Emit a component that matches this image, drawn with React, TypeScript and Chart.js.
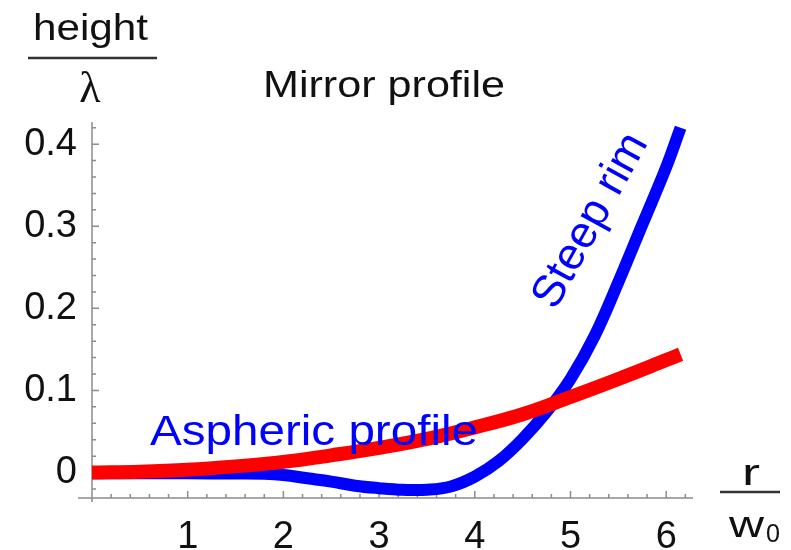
import React, { useEffect, useRef } from 'react';
import { Chart, registerables } from 'chart.js';

Chart.register(...registerables);

// Aspheric profile (red)
const redR = [0, 0.5, 1, 1.5, 2, 2.5, 3, 3.5, 4, 4.5, 5, 5.5, 6, 6.15];
const redH = [0, 0.001, 0.0033, 0.0075, 0.013, 0.021, 0.03, 0.041, 0.055, 0.071, 0.092, 0.114, 0.137, 0.144];

// Steep-rim profile (blue)
const blueR = [0, 0.5, 1, 1.5, 1.8, 2, 2.25, 2.5, 2.75, 3, 3.25, 3.5, 3.75, 4, 4.25, 4.5, 4.75, 5, 5.25, 5.5, 5.75, 6, 6.15];
const blueH = [-0.001, -0.001, -0.001, -0.0012, -0.0015, -0.003, -0.007, -0.011, -0.016, -0.019, -0.021, -0.021, -0.017, -0.005, 0.014, 0.041, 0.074, 0.114, 0.166, 0.232, 0.302, 0.372, 0.42];

const xTickValues = [1, 2, 3, 4, 5, 6];
const yTickValues = [0, 0.1, 0.2, 0.3, 0.4];
const xMin = 0;
const xMax = 6.28;
const yMin = -0.031;
const yMax = 0.427;

const titleText = 'Mirror profile';
const yLabelTop = 'height';
const yLabelBottom = 'λ';
const xLabelTop = 'r';
const xLabelBottom = 'w';
const xLabelSub = '0';
const redLabel = 'Aspheric profile';
const blueLabel = 'Steep rim';

const SANS = '"Liberation Sans", Arial, Helvetica, sans-serif';
const SERIF = '"Liberation Serif", "Times New Roman", serif';

function fitText(ctx: CanvasRenderingContext2D, text: string, left: number, baseline: number, size: number, family: string, color: string, width: number) {
  ctx.save();
  ctx.font = `${size}px ${family}`;
  ctx.fillStyle = color;
  ctx.textAlign = 'left';
  ctx.textBaseline = 'alphabetic';
  const w = ctx.measureText(text).width;
  const sx = width > 0 ? width / w : 1;
  ctx.translate(left, baseline);
  ctx.scale(sx, 1);
  ctx.fillText(text, 0, 0);
  ctx.restore();
}

const overlay = {
  id: 'overlay',
  beforeDatasetsDraw(chart: any) {
    const ctx: CanvasRenderingContext2D = chart.ctx;
    const xs = chart.scales.x;
    const ys = chart.scales.y;
    const x0 = xs.getPixelForValue(0);
    const yb = ys.getPixelForValue(yMin);
    ctx.save();
    ctx.strokeStyle = '#8c8c8c';
    ctx.lineWidth = 1.5;
    ctx.beginPath();
    ctx.moveTo(x0 - 14, yb);
    ctx.lineTo(xs.getPixelForValue(xMax), yb);
    ctx.moveTo(x0, ys.getPixelForValue(yMax));
    ctx.lineTo(x0, yb + 4);
    // y ticks (inward)
    for (let i = -1; i <= 21; i++) {
      const v = i * 0.02;
      const p = ys.getPixelForValue(v);
      const len = i % 5 === 0 ? 7 : 4;
      ctx.moveTo(x0, p);
      ctx.lineTo(x0 + len, p);
    }
    // x ticks (inward)
    for (let i = 1; i <= 31; i++) {
      const v = i * 0.2;
      const p = xs.getPixelForValue(v);
      const len = i % 5 === 0 ? 7 : 4;
      ctx.moveTo(p, yb);
      ctx.lineTo(p, yb - len);
    }
    ctx.stroke();
    ctx.restore();
  },
  afterDatasetsDraw(chart: any) {
    const ctx: CanvasRenderingContext2D = chart.ctx;
    // y-axis label: height / λ
    fitText(ctx, yLabelTop, 33, 40, 36, SANS, '#111', 115);
    ctx.save();
    ctx.strokeStyle = '#333';
    ctx.lineWidth = 2.5;
    ctx.beginPath();
    ctx.moveTo(28, 58);
    ctx.lineTo(157, 58);
    ctx.moveTo(720, 492);
    ctx.lineTo(780, 492);
    ctx.stroke();
    ctx.restore();
    ctx.save();
    ctx.font = `44px ${SERIF}`;
    ctx.fillStyle = '#111';
    ctx.textAlign = 'center';
    ctx.textBaseline = 'alphabetic';
    ctx.fillText(yLabelBottom, 90, 102);
    ctx.restore();
    // title
    fitText(ctx, titleText, 263, 97, 36, SANS, '#111', 242);
    // x-axis label: r / w0
    fitText(ctx, xLabelTop, 742, 485, 37, SANS, '#111', 18);
    fitText(ctx, xLabelBottom, 729, 537, 36, SANS, '#111', 35);
    fitText(ctx, xLabelSub, 766, 542, 25, SANS, '#111', 14);
    // annotations
    fitText(ctx, redLabel, 150, 445, 43, SANS, '#0000ff', 328);
    ctx.save();
    ctx.translate(591, 221);
    ctx.rotate(-61 * Math.PI / 180);
    ctx.font = `45px ${SANS}`;
    ctx.fillStyle = '#0000ff';
    ctx.textAlign = 'center';
    ctx.textBaseline = 'middle';
    ctx.fillText(blueLabel, 0, 0);
    ctx.restore();
  },
};

export default function App() {
  const ref = useRef<HTMLCanvasElement>(null);
  useEffect(() => {
    const canvas = ref.current;
    if (!canvas) return;
    const chart = new Chart(canvas, {
      type: 'line',
      data: {
        datasets: [
          {
            label: redLabel,
            data: redR.map((r, i) => ({ x: r, y: redH[i] })),
            borderColor: '#ff0000',
            backgroundColor: '#ff0000',
            borderWidth: 14,
            pointRadius: 0,
            tension: 0.4,
            borderCapStyle: 'butt',
            clip: false,
          } as any,
          {
            label: blueLabel,
            data: blueR.map((r, i) => ({ x: r, y: blueH[i] })),
            borderColor: '#0000ff',
            backgroundColor: '#0000ff',
            borderWidth: 12,
            pointRadius: 0,
            tension: 0.4,
            borderCapStyle: 'butt',
            clip: false,
          } as any,
        ],
      },
      options: {
        animation: false,
        responsive: true,
        maintainAspectRatio: false,
        layout: { padding: { top: 122, right: 98, left: 0, bottom: 0 } },
        plugins: {
          legend: { display: false },
          tooltip: { enabled: false },
          title: { display: false },
        },
        scales: {
          x: {
            type: 'linear',
            min: xMin,
            max: xMax,
            grid: { display: false, drawTicks: false },
            border: { display: false },
            afterBuildTicks: (s: any) => {
              s.ticks = xTickValues.map((v) => ({ value: v }));
            },
            afterFit: (s: any) => {
              s.height = 52;
            },
            ticks: {
              font: { family: SANS, size: 38 },
              color: '#111',
              padding: 17,
              maxRotation: 0,
              autoSkip: false,
              callback: (v: any) => String(v),
            },
          },
          y: {
            type: 'linear',
            min: yMin,
            max: yMax,
            grid: { display: false, drawTicks: false },
            border: { display: false },
            afterBuildTicks: (s: any) => {
              s.ticks = yTickValues.map((v) => ({ value: v }));
            },
            afterFit: (s: any) => {
              s.width = 92;
            },
            ticks: {
              font: { family: SANS, size: 38 },
              color: '#111',
              padding: 15,
              autoSkip: false,
              callback: (v: any) => String(v),
            },
          },
        },
      } as any,
      plugins: [overlay],
    });
    return () => chart.destroy();
  }, []);
  return (
    <div style={{ position: 'absolute', left: 0, top: 0, width: 791, height: 550, background: '#fff' }}>
      <canvas ref={ref} />
    </div>
  );
}
